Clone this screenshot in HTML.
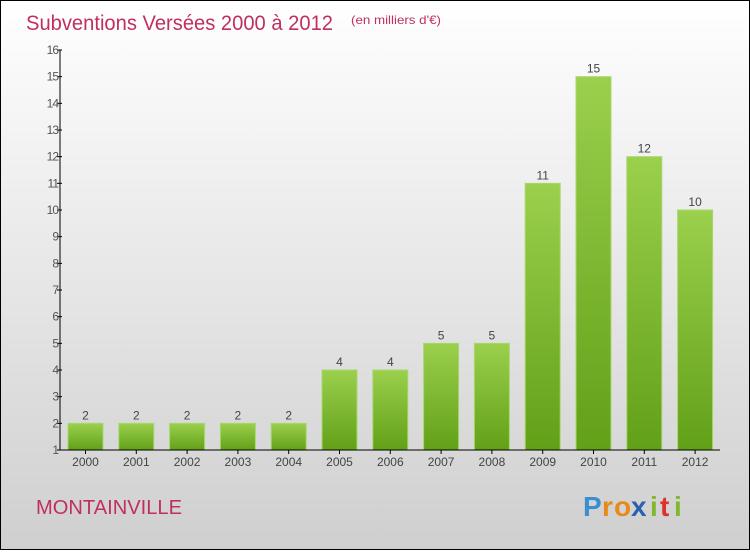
<!DOCTYPE html>
<html><head><meta charset="utf-8"><style>
html,body{margin:0;padding:0}
body{width:750px;height:550px;overflow:hidden;font-family:"Liberation Sans",sans-serif}
</style></head><body>
<svg width="750" height="550" xmlns="http://www.w3.org/2000/svg">
<defs>
<linearGradient id="bg" x1="0" y1="0" x2="0" y2="1"><stop offset="0" stop-color="#ffffff"/><stop offset="1" stop-color="#cfcfcf"/></linearGradient>
<linearGradient id="bar" x1="0" y1="0" x2="0" y2="1"><stop offset="0" stop-color="#9bd04c"/><stop offset="1" stop-color="#62a018"/></linearGradient>
</defs>
<rect x="0.5" y="0.5" width="749" height="549" fill="url(#bg)" stroke="#000"/>
<text x="26" y="30" font-size="21" fill="#c0305e" textLength="307" lengthAdjust="spacingAndGlyphs">Subventions Versées 2000 à 2012</text>
<text x="351" y="24" font-size="12" fill="#c0305e" textLength="90" lengthAdjust="spacingAndGlyphs">(en milliers d'€)</text>
<g id="plot"></g>
<text x="36" y="514" font-size="20" fill="#c0305e" textLength="146" lengthAdjust="spacingAndGlyphs">MONTAINVILLE</text>
<g font-size="28" font-weight="bold">
<text x="583" y="516" fill="#3a8fd0">P</text><text x="602" y="516" fill="#e88a1a">r</text><text x="614" y="516" fill="#e88a1a">o</text><text x="631" y="516" fill="#2a60b0">x</text><text x="650" y="516" fill="#7fb82a">i</text><text x="660" y="516" fill="#e0302a">t</text><text x="674" y="516" fill="#7fb82a">i</text>
</g>
</svg>
<script>
const categories=["2000","2001","2002","2003","2004","2005","2006","2007","2008","2009","2010","2011","2012"];
const values=[2,2,2,2,2,4,4,5,5,11,15,12,10];
const yTicks=[1,2,3,4,5,6,7,8,9,10,11,12,13,14,15,16];
const ns="http://www.w3.org/2000/svg";
const g=document.getElementById("plot");
const y=v=>450-(v-1)*400/15;
const x=i=>85.5+i*50.8;
function mk(t,a,txt){const e=document.createElementNS(ns,t);for(const k in a)e.setAttribute(k,a[k]);if(txt!==undefined)e.textContent=txt;g.appendChild(e);return e;}
values.forEach((v,i)=>{
 const r=mk("rect",{x:x(i)-17.5,y:y(v),width:35,height:450-y(v),fill:"url(#bar)",stroke:"#a8d870","stroke-width":1});
 
 
 const t=mk("text",{x:x(i),y:y(v)-4,"font-size":12,fill:"#444","text-anchor":"middle"},String(v));
 
 
 const c=mk("text",{x:x(i),y:466,"font-size":12,fill:"#444","text-anchor":"middle"},categories[i]);
 
 
 mk("line",{x1:x(i),x2:x(i),y1:450,y2:454,stroke:"#000"});
});
yTicks.forEach(v=>{
 mk("line",{x1:57,x2:62,y1:y(v),y2:y(v),stroke:"#000"});
 const t=mk("text",{x:58,y:y(v)+4,"font-size":12,fill:"#555","text-anchor":"end","letter-spacing":"-1"},String(v));
 
 
});
const ya=mk("line",{x1:60,x2:60,y1:50,y2:450,stroke:"#000"});


const xa=mk("line",{x1:60,x2:720,y1:450,y2:450,stroke:"#000"});


</script>
</body></html>
